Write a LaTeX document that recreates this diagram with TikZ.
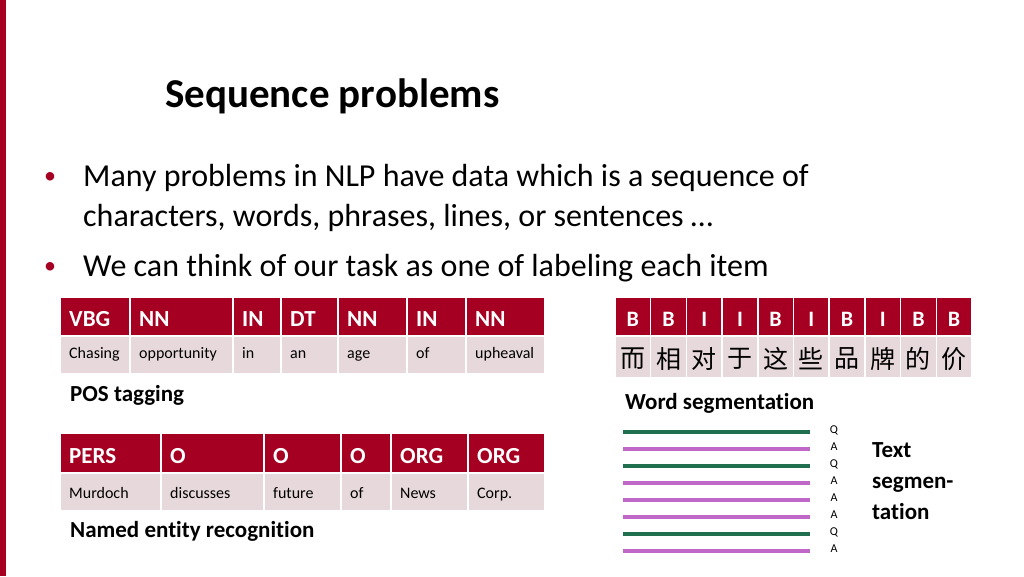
\documentclass[tikz,border=0pt]{standalone}
\usepackage{fontspec}
\setmainfont{Carlito}[Ligatures=NoCommon]
\newfontfamily\cjk{Noto Sans CJK SC}
\usetikzlibrary{positioning}
\definecolor{crimson}{RGB}{165,0,33}
\definecolor{cellpink}{RGB}{231,216,219}
\definecolor{qgreen}{RGB}{32,112,80}
\definecolor{apurple}{RGB}{192,104,200}
\tikzset{
  headcell/.style={fill=crimson, draw=white, line width=1.5pt},
  wordcell/.style={fill=cellpink, draw=white, line width=1.5pt},
  headtxt/.style={text=white, font=\fontsize{23}{25}\selectfont\bfseries, anchor=base west, inner sep=0pt},
  wordtxt/.style={font=\fontsize{16}{18}\selectfont, anchor=base west, inner sep=0pt},
  caption/.style={font=\fontsize{23}{25}\selectfont\bfseries, anchor=west, inner sep=0pt},
}
\begin{document}
\begin{tikzpicture}[x=1pt, y=-1pt]
	\useasboundingbox (0,0) rectangle (1024,576);
	\fill[crimson] (0,0) rectangle (6,576);

	\node[font=\fontsize{41}{43}\selectfont\bfseries, anchor=west, inner sep=0pt] (title) at (165,96) {Sequence problems};

	% bullets
	\foreach \y/\t [count=\i] in {178/Many problems in NLP have data which is a sequence of,
		218/{characters, words, phrases, lines, or sentences \dots},
		268/We can think of our task as one of labeling each item}
		\node[font=\fontsize{32}{34}\selectfont, anchor=west, inner sep=0pt] (line\i) at (83,\y) {\t};
	\node[text=crimson, font=\fontsize{24}{26}\selectfont, inner sep=0pt] (dot1) at (50,178) {•};
	\node[text=crimson, font=\fontsize{24}{26}\selectfont, inner sep=0pt] (dot2) at (50,268) {•};

	% POS tagging
	\foreach \l/\r/\tag/\word in {60/130/VBG/Chasing, 130/233/NN/opportunity, 233/281/IN/in,
		281/338/DT/an, 338/407/NN/age, 407/466/IN/of, 466/545/NN/upheaval}{
		\draw[headcell] (\l,297) rectangle (\r,336);
		\draw[wordcell] (\l,336) rectangle (\r,374);
		\node[headtxt] at (\l+9,326) {\tag};
		\node[wordtxt] at (\l+9,358) {\word};
	}
	\node[caption] (pos) at (70,395) {POS tagging};

	% named entities
	\foreach \l/\r/\tag/\word in {60/161/PERS/Murdoch, 161/264/O/discusses, 264/341/O/future,
		341/391/O/of, 391/468/ORG/News, 468/545/ORG/Corp.}{
		\draw[headcell] (\l,433) rectangle (\r,473);
		\draw[wordcell] (\l,473) rectangle (\r,511);
		\node[headtxt] at (\l+9,463) {\tag};
		\node[wordtxt] at (\l+9,498) {\word};
	}
	\node[caption] (ner) at (70,531) {Named entity recognition};

	% word segmentation
	\foreach \tag/\ch [count=\i from 0] in {B/而, B/相, I/对, I/于, B/这, I/些, B/品, I/牌, B/的, B/价}{
		\draw[headcell] (615+35.7*\i,297) rectangle (615+35.7*\i+35.7,336);
		\draw[wordcell] (615+35.7*\i,336) rectangle (615+35.7*\i+35.7,378);
		\node[text=white, font=\fontsize{22}{24}\selectfont\bfseries, anchor=base, inner sep=0pt] at (615+35.7*\i+17.85,326) {\tag};
		\node[font=\cjk\fontsize{25}{27}\selectfont] at (615+35.7*\i+17.85,359) {\ch};
	}
	\node[caption] (ws) at (625,403) {Word segmentation};

	% text segmentation
	\foreach \k/\lc [count=\i from 0] in {Q/qgreen,A/apurple,Q/qgreen,A/apurple,A/apurple,A/apurple,Q/qgreen,A/apurple}{
		\draw[\lc, line width=4pt] (623,432+17*\i) -- (810,432+17*\i);
		\node[font=\fontsize{12}{13}\selectfont, inner sep=0pt] (qa\i) at (834,430+17*\i) {\k};
	}
	\node[font=\fontsize{23}{31}\selectfont\bfseries, anchor=north west, align=left, inner sep=0pt] (ts) at (872,442) {Text\\segmen-\\tation};
\end{tikzpicture}
\end{document}
